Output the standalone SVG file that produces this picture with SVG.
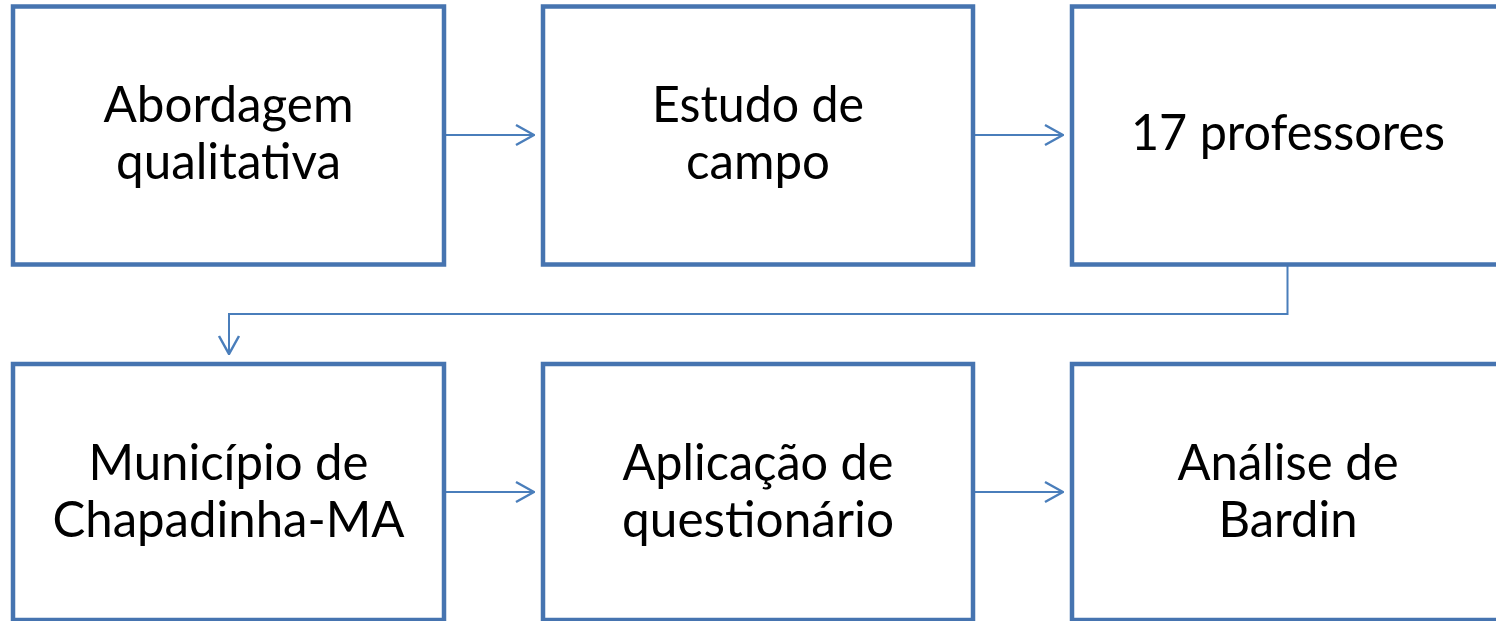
<svg xmlns="http://www.w3.org/2000/svg" width="1496" height="621" viewBox="0 0 1496 621">
<style>
.box{fill:#fff;stroke:#4674b0;stroke-width:4.5}
.lbl{font-family:Lato,"Liberation Sans",sans-serif;font-size:51px;fill:#000;text-anchor:middle}
.con{fill:none;stroke:#4a7ebb;stroke-width:2}
</style>
<defs>
<marker id="ah" viewBox="0 0 20 24" refX="19" refY="12" markerWidth="20" markerHeight="24" markerUnits="userSpaceOnUse" orient="auto">
<path d="M1,2 L19,12 L1,22" fill="none" stroke="#4a7ebb" stroke-width="2.5"/>
</marker>
</defs>
<rect width="1496" height="621" fill="#fff"/>
<g id="connectors">
<line class="con" x1="446" y1="135" x2="534" y2="135" marker-end="url(#ah)"/>
<line class="con" x1="975" y1="135" x2="1063" y2="135" marker-end="url(#ah)"/>
<polyline class="con" points="1287.5,266 1287.5,314 229,314 229,354" marker-end="url(#ah)"/>
<line class="con" x1="446" y1="492" x2="534" y2="492" marker-end="url(#ah)"/>
<line class="con" x1="975" y1="492" x2="1063" y2="492" marker-end="url(#ah)"/>
</g>
<g id="n1"><rect class="box" x="13" y="6.5" width="431" height="258"/>
<text class="lbl" x="228.5" y="122" textLength="250" lengthAdjust="spacingAndGlyphs">Abordagem</text>
<text class="lbl" x="228.5" y="179" textLength="225" lengthAdjust="spacingAndGlyphs">qualitativa</text></g>
<g id="n2"><rect class="box" x="543" y="6.5" width="430" height="258"/>
<text class="lbl" x="758" y="122" textLength="212" lengthAdjust="spacingAndGlyphs">Estudo de</text>
<text class="lbl" x="758" y="179" textLength="144" lengthAdjust="spacingAndGlyphs">campo</text></g>
<g id="n3"><rect class="box" x="1072" y="6.5" width="431" height="258"/>
<text class="lbl" x="1288" y="150" textLength="314" lengthAdjust="spacingAndGlyphs">17 professores</text></g>
<g id="n4"><rect class="box" x="13" y="364" width="431" height="256"/>
<text class="lbl" x="228.5" y="480" textLength="280" lengthAdjust="spacingAndGlyphs">Município de</text>
<text class="lbl" x="228.5" y="537" textLength="352" lengthAdjust="spacingAndGlyphs">Chapadinha-MA</text></g>
<g id="n5"><rect class="box" x="543" y="364" width="430" height="256"/>
<text class="lbl" x="758" y="480" textLength="271" lengthAdjust="spacingAndGlyphs">Aplicação de</text>
<text class="lbl" x="758" y="537" textLength="272" lengthAdjust="spacingAndGlyphs">questionário</text></g>
<g id="n6"><rect class="box" x="1072" y="364" width="431" height="256"/>
<text class="lbl" x="1288" y="480" textLength="221" lengthAdjust="spacingAndGlyphs">Análise de</text>
<text class="lbl" x="1288" y="537" textLength="139" lengthAdjust="spacingAndGlyphs">Bardin</text></g>
</svg>
